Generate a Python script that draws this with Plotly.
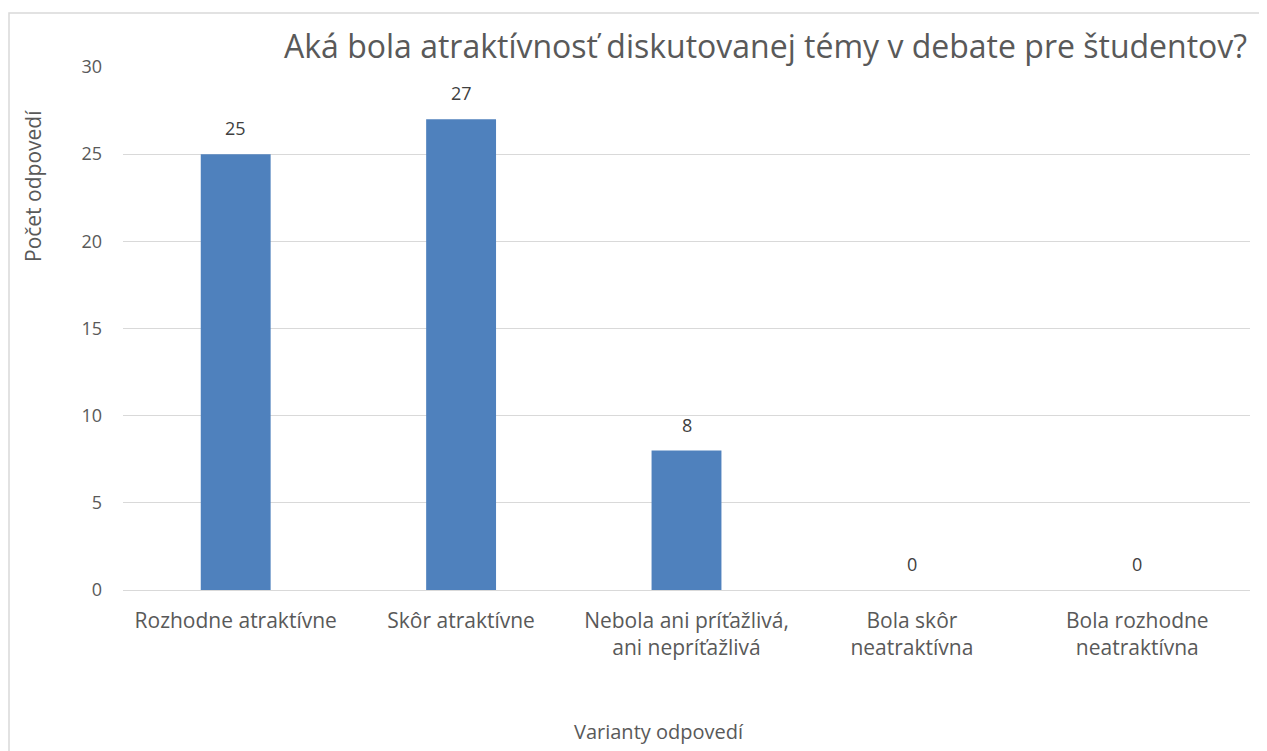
import plotly.graph_objects as go

# answer options and counts
categories = [
    "Rozhodne atraktívne",
    "Skôr atraktívne",
    "Nebola ani príťažlivá,<br>ani nepríťažlivá",
    "Bola skôr<br>neatraktívna",
    "Bola rozhodne<br>neatraktívna",
]
counts = [25, 27, 8, 0, 0]
y_ticks = [0, 5, 10, 15, 20, 25, 30]

W, H = 1267, 751
# page body has an 8px margin, so the figure starts at (8, 8)
OFF = 8
px0, px1, py0, py1 = 123, 1250, 67, 590   # plot area on screen
pw = px1 - px0
ph = py1 - py0


def sx(x):
    return (x - px0) / pw


def sy(y):
    return (py1 - y) / ph


fig = go.Figure()
fig.add_trace(go.Bar(
    x=categories, y=counts,
    marker=dict(color="#4f81bd", line=dict(width=0)),
    width=0.31,
))

# value labels above bars
for c, v in zip(categories, counts):
    fig.add_annotation(
        x=c, y=v, text=str(v), showarrow=False,
        yanchor="middle", yshift=26,
        font=dict(family="Open Sans", size=18, color="#404040"),
    )

fig.update_layout(
    width=W, height=H,
    margin=dict(l=px0 - OFF, r=W + OFF - px1, t=py0 - OFF, b=H + OFF - py1),
    plot_bgcolor="white", paper_bgcolor="white",
    showlegend=False,
    xaxis=dict(
        showgrid=False, showline=False, ticks="",
        ticklabelstandoff=16,
        tickfont=dict(family="Open Sans", size=21, color="#595959"),
    ),
    yaxis=dict(
        range=[0, 30], tickvals=y_ticks,
        showgrid=True, gridcolor="#d9d9d9", gridwidth=1,
        zeroline=True, zerolinecolor="#d9d9d9", zerolinewidth=1,
        showline=False, ticks="",
        ticklabelstandoff=20,
        tickfont=dict(family="Open Sans", size=18, color="#595959"),
    ),
)

# chart title
fig.add_annotation(
    text="Aká bola atraktívnosť diskutovanej témy v debate pre študentov?",
    xref="paper", yref="paper", x=sx(765), y=sy(46),
    showarrow=False, xanchor="center", yanchor="middle",
    font=dict(family="Open Sans", size=32, color="#595959"),
)
# y axis title
fig.add_annotation(
    text="Počet odpovedí", textangle=-90,
    xref="paper", yref="paper", x=sx(33), y=sy(186),
    showarrow=False, xanchor="center", yanchor="middle",
    font=dict(family="Open Sans", size=21, color="#595959"),
)
# x axis title
fig.add_annotation(
    text="Varianty odpovedí",
    xref="paper", yref="paper", x=sx(659), y=sy(731),
    showarrow=False, xanchor="center", yanchor="middle",
    font=dict(family="Open Sans", size=20, color="#595959"),
)
# outer chart border
fig.add_shape(
    type="rect", xref="paper", yref="paper",
    x0=sx(9), x1=sx(W + 10), y0=sy(H + 10), y1=sy(13),
    line=dict(color="#d9d9d9", width=1.5), fillcolor="rgba(0,0,0,0)",
)

fig.write_html("out.html")
